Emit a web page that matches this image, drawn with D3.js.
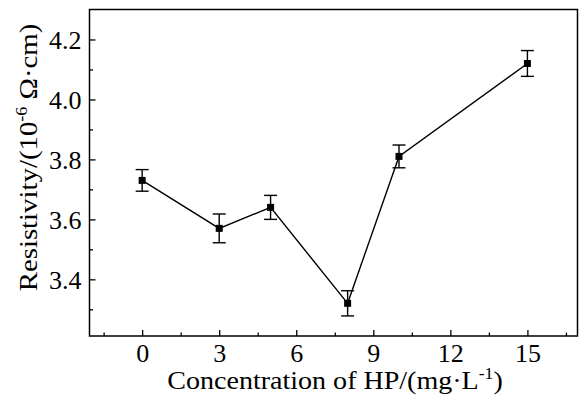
<!DOCTYPE html>
<html><head><meta charset="utf-8">
<script src="https://cdn.jsdelivr.net/npm/d3@7/dist/d3.min.js"></script>
<style>body{margin:0;background:#fff}svg{display:block}text{font-family:'Liberation Serif','Times New Roman',serif}</style>
</head><body>
<script>
const concentration = [0, 3, 5, 8, 10, 15];
const resistivity = [3.73, 3.57, 3.64, 3.32, 3.81, 4.12];
const errorBar = [0.036, 0.048, 0.040, 0.042, 0.038, 0.043];
const xTicks = [0, 3, 6, 9, 12, 15];
const yTicks = [3.4, 3.6, 3.8, 4.0, 4.2];

const W = 579, H = 399;
const m = {l: 89.5, r: 1.5, t: 9.5, b: 63};
const svg = d3.select("body").append("svg").attr("width", W).attr("height", H);
const x = d3.scaleLinear().domain([-2.05, 16.95]).range([m.l, W - m.r]);
const y = d3.scaleLinear().domain([3.211, 4.3]).range([H - m.b, m.t]);
const font = "'Liberation Serif','Times New Roman',serif";

const xMinor = d3.range(-1.5, 16.9, 1.5).filter(v => !xTicks.includes(v));
const yMinor = d3.range(3.3, 4.3, 0.2);

const xAxis = d3.axisBottom(x).tickValues(xTicks).tickSizeInner(-6).tickSizeOuter(0).tickPadding(7.5).tickFormat(d3.format("d"));
const gx = svg.append("g").attr("transform", `translate(0,${H - m.b})`).call(xAxis);
const xAxisMinor = d3.axisBottom(x).tickValues(xMinor).tickSizeInner(-3.5).tickSizeOuter(0).tickFormat("");
const gxm = svg.append("g").attr("transform", `translate(0,${H - m.b})`).call(xAxisMinor);
const yAxis = d3.axisLeft(y).tickValues(yTicks).tickSizeInner(-6).tickSizeOuter(0).tickPadding(8).tickFormat(d3.format(".1f"));
const gy = svg.append("g").attr("transform", `translate(${m.l},0)`).call(yAxis);
const yAxisMinor = d3.axisLeft(y).tickValues(yMinor).tickSizeInner(-3.5).tickSizeOuter(0).tickFormat("");
const gym = svg.append("g").attr("transform", `translate(${m.l},0)`).call(yAxisMinor);
[gx, gxm, gy, gym].forEach(g => {
  g.attr("font-family", font).attr("font-size", 26);
  g.select(".domain").remove();
  g.selectAll("line").attr("stroke", "#000").attr("stroke-width", 1.3);
  g.selectAll("text").style("font-family", font).style("font-size", "26px").attr("fill", "#000");
});
gy.selectAll("text").attr("dy", "0.34em");

svg.append("rect").attr("x", m.l).attr("y", m.t).attr("width", W - m.r - m.l).attr("height", H - m.b - m.t)
  .attr("fill", "none").attr("stroke", "#000").attr("stroke-width", 1.5);

const data = concentration.map((c, i) => ({c, v: resistivity[i], e: errorBar[i]}));
svg.append("path").datum(data)
  .attr("d", d3.line().x(d => x(d.c)).y(d => y(d.v)))
  .attr("fill", "none").attr("stroke", "#000").attr("stroke-width", 1.4);

const eb = svg.append("g").attr("stroke", "#000").attr("stroke-width", 1.4);
data.forEach(d => {
  const cx = x(d.c), cw = 6.5;
  eb.append("line").attr("x1", cx).attr("x2", cx).attr("y1", y(d.v + d.e)).attr("y2", y(d.v - d.e));
  eb.append("line").attr("x1", cx - cw).attr("x2", cx + cw).attr("y1", y(d.v + d.e)).attr("y2", y(d.v + d.e));
  eb.append("line").attr("x1", cx - cw).attr("x2", cx + cw).attr("y1", y(d.v - d.e)).attr("y2", y(d.v - d.e));
});
svg.append("g").selectAll("rect").data(data).join("rect")
  .attr("x", d => x(d.c) - 3.5).attr("y", d => y(d.v) - 3.5).attr("width", 7).attr("height", 7).attr("fill", "#000");

const xt = svg.append("text").attr("transform", "translate(335,389) scale(1.1,1)").attr("text-anchor", "middle")
  .style("font-size", "25.5px").attr("fill", "#000");
xt.append("tspan").text("Concentration of HP/(mg\u00B7L");
xt.append("tspan").attr("dy", -10).style("font-size", "16px").text("-1");
xt.append("tspan").attr("dy", 10).text(")");

const yt = svg.append("text").attr("transform", "translate(37,157.5) rotate(-90) scale(1.13,1)").attr("text-anchor", "middle")
  .style("font-size", "25.5px").attr("fill", "#000");
yt.append("tspan").text("Resistivity/(10");
yt.append("tspan").attr("dy", -10).style("font-size", "16px").text("-6");
yt.append("tspan").attr("dy", 10).text(" \u03A9\u00B7cm)");
</script>
</body></html>
